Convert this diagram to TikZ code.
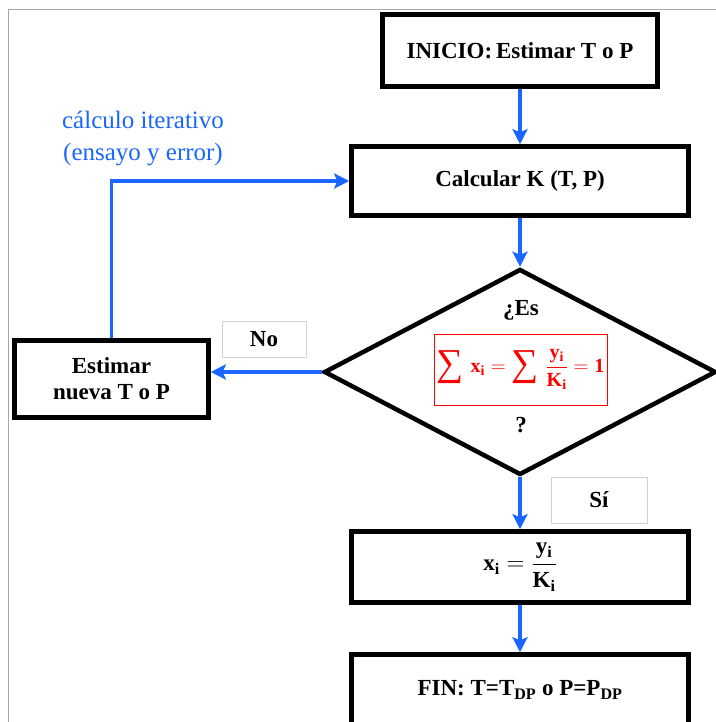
\documentclass[tikz,border=0pt]{standalone}
\usepackage{fontspec}
\setmainfont{Liberation Serif}
\usepackage{amsmath}
\usetikzlibrary{arrows.meta, positioning, shapes.geometric}
\definecolor{loopblue}{HTML}{1A66FF}
\definecolor{eqred}{HTML}{FF0000}
\newcommand{\bigsigma}{\mathop{\text{\raisebox{-0.3ex}{\fontsize{38}{38}\selectfont\mdseries ∑}}}\,}

\begin{document}
\begin{tikzpicture}[x=1pt, y=1pt, font=\fontsize{23}{27}\selectfont\bfseries,
  stepbox/.style={draw=black, line width=4.5pt, fill=white, inner sep=0pt,
                  minimum width=337pt, minimum height=70pt},
  tagbox/.style={draw=gray!35, line width=0.8pt, fill=white, inner sep=0pt},
  flow/.style={-{Stealth[length=15pt, width=15pt, inset=3pt]}, loopblue, line width=3.5pt}
]
\useasboundingbox (0,0) rectangle (715,722);
% ---- page frame ---------------------------------------------------------
\draw[gray!70, line width=0.8pt] (8,-5) |- (720,713);

% ---- boxes --------------------------------------------------------------
\node[stepbox, minimum width=275pt, minimum height=72pt] (ini) at (520,671.5)
  {INICIO:\,Estimar T o P};
\node[stepbox, minimum height=69pt] (calc) at (520,541) {Calcular K (T, P)};
\node[draw=black, line width=4.5pt, shape=diamond, inner sep=0pt,
      minimum width=392pt, minimum height=206pt] (dec) at (520,350) {};
\node[stepbox, minimum width=194pt, minimum height=77pt, align=center] (est) at (111.5,343)
  {Estimar\\[-1pt] nueva T o P};
\node[stepbox, minimum height=71pt] (xi) at (520,155)
  {$\displaystyle\mathbf{x_i}=\frac{\mathbf{y_i}}{\mathbf{K_i}}$};
\node[stepbox, minimum height=71pt] (fin) at (520,32)
  {FIN: T=T$_{\mathbf{DP}}$ o P=P$_{\mathbf{DP}}$};

% ---- inside the test ----------------------------------------------------
\node (es) at (521,412) {¿Es};
\node[draw=eqred, line width=0.8pt, text=eqred, minimum width=173pt, minimum height=71pt,
      inner sep=0pt, font=\fontsize{20}{24}\selectfont\bfseries] (eq) at (520.5,352.5)
  {$\displaystyle\bigsigma\mathbf{x_i}=\bigsigma\frac{\mathbf{y_i}}{\mathbf{K_i}}=\mathbf{1}$};
\node (qm) at (521,297) {?};

% ---- answers ------------------------------------------------------------
\node[tagbox, minimum width=84pt, minimum height=36pt] (no) at (264,383) {No};
\node[tagbox, minimum width=96pt, minimum height=46pt] (si) at (599,222) {Sí};

% ---- arrows -------------------------------------------------------------
\draw[flow] (ini) -- (calc);
\draw[flow] (calc) -- (dec);
\draw[flow] (dec.west) -- (dec.west -| est.east);
\draw[flow] (est.north) |- (calc.west);
\draw[flow] (dec) -- (xi);
\draw[flow] (xi) -- (fin);
\node[align=center, text=loopblue, font=\fontsize{25}{32}\selectfont] (iter) at (143,583)
  {cálculo iterativo\\(ensayo y error)};
\end{tikzpicture}
\end{document}
